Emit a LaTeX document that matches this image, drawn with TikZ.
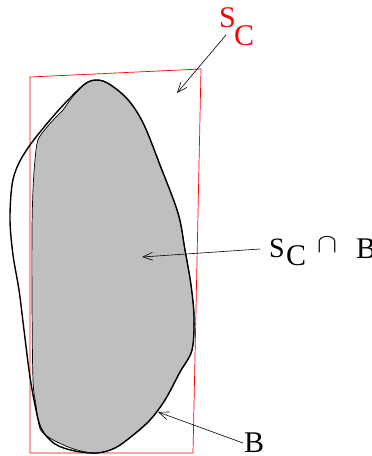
\documentclass[tikz,border=0pt]{standalone}
\usepackage{graphicx}
\usepackage{fontspec}
\setmainfont{Liberation Serif}
\usetikzlibrary{arrows.meta}
\begin{document}
\begin{tikzpicture}[x=1pt,y=-1pt,
  lbl/.style={inner sep=0pt,outer sep=0pt,anchor=base west},
  ptr/.style={line width=0.6pt,-{Straight Barb[length=10pt,width=8pt,line width=0.6pt]}},
  boxline/.style={red,line width=0.7pt},
  region/.style={fill=black!25,draw=black,line width=0.7pt},
  outline/.style={draw=black,line width=1.4pt}]
\useasboundingbox (0,0) rectangle (372,456);
% red quadrilateral S_C
\draw[boxline] (30,77) -- (201,69) -- (193,453) -- (30,453) -- cycle;
% grey region S_C intersect B
\path[region] plot[smooth cycle,tension=0.55] coordinates {
 (88,82) (103,81) (120,92) (133,106) (145,127) (160,165) (178,213) (185,250)
 (191,285) (194,317) (192,350) (180,372) (165,400) (150,420) (132,436) (115,448)
 (97,453) (77,450) (57,442) (43,433) (39,425) (36,405) (33,380) (32,300) (32,230)
 (33,190) (35,160) (38,140) (47,127) (58,115) (63,110) (68,103) (75,94)};
% outline B
\path[outline] plot[smooth cycle,tension=0.55] coordinates {
 (88,82) (103,81) (120,92) (133,106) (145,127) (160,165) (178,213) (185,250)
 (191,285) (194,317) (192,350) (180,372) (165,400) (150,420) (132,436) (115,448)
 (97,453) (75,451) (55,444) (41,428) (34,400) (29,370) (24,330) (19,290) (13,255)
 (10,220) (12,185) (18,165) (30,145) (50,120) (70,98)};
% labels
\node[lbl,text=red,font=\fontsize{30}{30}\selectfont] (sc1) at (219,27) {S};
\node[lbl,text=red,font=\fontsize{30}{30}\selectfont] (sc1c) at (234,45) {C};
\node[lbl,font=\fontsize{28}{28}\selectfont] (sc2) at (269,257) {S};
\node[lbl,font=\fontsize{30}{30}\selectfont] (sc2c) at (286,265) {C};
\node[lbl] (cap) at (317,252) {\resizebox{20pt}{15pt}{$\cap$}};
\node[lbl,font=\fontsize{30}{30}\selectfont] (bb) at (356,258) {B};
\node[lbl,font=\fontsize{30}{30}\selectfont] (b2) at (244,452) {B};
% arrow ends
\coordinate (t1) at (226,35);
\coordinate (h1) at (177,93);
\coordinate (t2) at (260,249);
\coordinate (h2) at (142,257);
\coordinate (t3) at (243,443);
\coordinate (h3) at (158,412);
\draw[ptr] (t1) -- (h1);
\draw[ptr] (t2) -- (h2);
\draw[ptr] (t3) -- (h3);
\end{tikzpicture}
\end{document}
